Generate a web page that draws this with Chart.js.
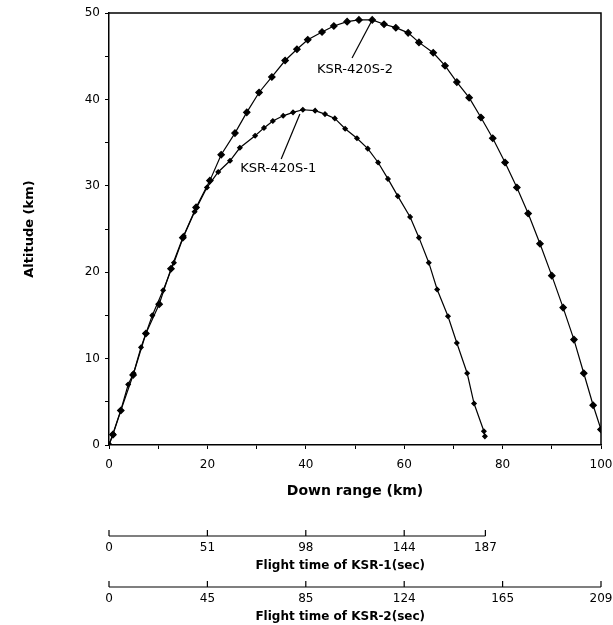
<!DOCTYPE html>
<html>
<head>
<meta charset="utf-8">
<script src="https://cdn.jsdelivr.net/npm/chart.js@4/dist/chart.umd.min.js"></script>
<style>
  body { margin: 0; background: #fff; }
  canvas { display: block; }
</style>
</head>
<body>
<canvas id="trajectory" width="613" height="625"></canvas>
<script>
// KSR-420S-2 trajectory (down range km, altitude km)
const ksr2Range = [0, 0.8, 2.4, 4.9, 7.5, 10.2, 12.6, 15.0, 17.7, 20.5, 22.8, 25.6, 28.0, 30.5, 33.1, 35.8, 38.2, 40.4, 43.3, 45.7, 48.4, 50.8, 53.5, 55.9, 58.3, 60.8, 63.0, 65.9, 68.3, 70.7, 73.2, 75.6, 78.0, 80.5, 82.9, 85.2, 87.6, 90.0, 92.3, 94.5, 96.5, 98.4, 100];
const ksr2Alt   = [0, 1.2, 4.0, 8.1, 12.9, 16.3, 20.4, 24.0, 27.5, 30.6, 33.6, 36.1, 38.5, 40.8, 42.6, 44.5, 45.8, 46.9, 47.8, 48.5, 49.0, 49.2, 49.2, 48.7, 48.3, 47.7, 46.6, 45.4, 43.9, 42.0, 40.2, 37.9, 35.5, 32.7, 29.8, 26.8, 23.3, 19.6, 15.9, 12.2, 8.3, 4.6, 1.8];

// KSR-420S-1 trajectory
const ksr1Range = [0, 0.8, 2.4, 3.9, 5.0, 6.5, 8.8, 11.0, 13.2, 15.2, 17.4, 19.9, 22.2, 24.6, 26.6, 29.7, 31.5, 33.3, 35.4, 37.4, 39.4, 41.9, 43.9, 45.9, 48.0, 50.4, 52.6, 54.7, 56.7, 58.7, 61.2, 63.0, 65.0, 66.7, 68.9, 70.7, 72.8, 74.2, 76.2, 76.4];
const ksr1Alt   = [0, 1.3, 4.0, 7.0, 8.3, 11.3, 15.0, 17.9, 21.1, 24.2, 27.0, 29.8, 31.6, 32.9, 34.4, 35.8, 36.7, 37.5, 38.1, 38.5, 38.8, 38.7, 38.3, 37.8, 36.6, 35.5, 34.3, 32.7, 30.8, 28.8, 26.4, 24.0, 21.1, 18.0, 14.9, 11.8, 8.3, 4.8, 1.6, 1.0];

// flight time scales (seconds) and matching down range (km)
const flight1Km  = [0, 20, 40, 60, 76.5];
const flight1Sec = [0, 51, 98, 144, 187];
const flight2Km  = [0, 20, 40, 60, 80, 100];
const flight2Sec = [0, 45, 85, 124, 165, 209];

const toPoints = (xs, ys) => xs.map((x, i) => ({ x: x, y: ys[i] }));

const FONT = '"DejaVu Sans", Verdana, sans-serif';

// frame, curve labels and the two flight time scales
const extrasPlugin = {
    id: 'extras',
    afterDraw(chart) {
        const ctx = chart.ctx;
        const xs = chart.scales.x;
        const ys = chart.scales.y;
        const area = chart.chartArea;
        ctx.save();
        ctx.strokeStyle = '#000';
        ctx.fillStyle = '#000';

        // top and right edges of the frame
        ctx.lineWidth = 1.5;
        ctx.beginPath();
        ctx.moveTo(area.left, area.top);
        ctx.lineTo(area.right, area.top);
        ctx.lineTo(area.right, area.bottom);
        ctx.stroke();

        // curve labels with leader lines
        const label = (text, tx, ty, x0, y0, x1, y1) => {
            ctx.lineWidth = 1.2;
            ctx.beginPath();
            ctx.moveTo(xs.getPixelForValue(x0), ys.getPixelForValue(y0));
            ctx.lineTo(xs.getPixelForValue(x1), ys.getPixelForValue(y1));
            ctx.stroke();
            ctx.font = '13px ' + FONT;
            ctx.textAlign = 'center';
            ctx.textBaseline = 'middle';
            ctx.fillText(text, xs.getPixelForValue(tx), ys.getPixelForValue(ty));
        };
        label('KSR-420S-2', 50.0, 43.5, 49.4, 44.8, 53.5, 49.2);
        label('KSR-420S-1', 34.4, 32.0, 35.0, 33.1, 38.8, 38.3);

        // flight time axes
        const timeAxis = (kms, secs, y, title) => {
            ctx.lineWidth = 1.2;
            ctx.beginPath();
            ctx.moveTo(xs.getPixelForValue(kms[0]), y);
            ctx.lineTo(xs.getPixelForValue(kms[kms.length - 1]), y);
            kms.forEach(k => {
                const px = xs.getPixelForValue(k);
                ctx.moveTo(px, y);
                ctx.lineTo(px, y - 6);
            });
            ctx.stroke();
            ctx.font = '12px ' + FONT;
            ctx.textAlign = 'center';
            ctx.textBaseline = 'middle';
            kms.forEach((k, i) => {
                ctx.fillText(String(secs[i]), xs.getPixelForValue(k), y + 12);
            });
            ctx.font = 'bold 12px ' + FONT;
            ctx.fillText(title, xs.getPixelForValue(47), y + 30);
        };
        timeAxis(flight1Km, flight1Sec, area.bottom + 91, 'Flight time of KSR-1(sec)');
        timeAxis(flight2Km, flight2Sec, area.bottom + 142, 'Flight time of KSR-2(sec)');

        ctx.restore();
    }
};

const ctx = document.getElementById('trajectory').getContext('2d');
new Chart(ctx, {
    type: 'line',
    data: {
        datasets: [
            {
                label: 'KSR-420S-2',
                data: toPoints(ksr2Range, ksr2Alt),
                borderColor: '#000',
                backgroundColor: '#000',
                borderWidth: 1.2,
                pointStyle: 'rectRot',
                pointRadius: 3.2,
                tension: 0
            },
            {
                label: 'KSR-420S-1',
                data: toPoints(ksr1Range, ksr1Alt),
                borderColor: '#000',
                backgroundColor: '#000',
                borderWidth: 1.2,
                pointStyle: 'rectRot',
                pointRadius: 2.2,
                tension: 0
            }
        ]
    },
    options: {
        responsive: false,
        animation: false,
        layout: { padding: { top: 13, right: 0, left: 0, bottom: 0 } },
        plugins: {
            legend: { display: false },
            tooltip: { enabled: false }
        },
        scales: {
            x: {
                type: 'linear',
                min: 0,
                max: 100,
                afterFit: s => { s.height = 180; s.paddingRight = 12; },
                ticks: {
                    stepSize: 10,
                    color: '#000',
                    font: { family: FONT, size: 12 },
                    padding: 9,
                    maxRotation: 0,
                    callback: v => (v % 20 === 0 ? v : '')
                },
                grid: { drawOnChartArea: false, color: '#000', tickLength: 4 },
                border: { color: '#000', width: 1.5 },
                title: {
                    display: true,
                    text: 'Down range (km)',
                    color: '#000',
                    font: { family: FONT, size: 14, weight: 'bold' },
                    padding: { top: 0, bottom: 125 }
                }
            },
            y: {
                min: 0,
                max: 50,
                afterFit: s => { s.width = 109; },
                ticks: {
                    stepSize: 5,
                    color: '#000',
                    font: { family: FONT, size: 12 },
                    padding: 5,
                    callback: v => (v % 10 === 0 ? v : '')
                },
                grid: { drawOnChartArea: false, color: '#000', tickLength: 4 },
                border: { color: '#000', width: 1.5 },
                title: {
                    display: true,
                    text: 'Altitude (km)',
                    color: '#000',
                    font: { family: FONT, size: 13, weight: 'bold' },
                    padding: { top: 22, bottom: 0 }
                }
            }
        }
    },
    plugins: [extrasPlugin]
});
</script>
</body>
</html>
